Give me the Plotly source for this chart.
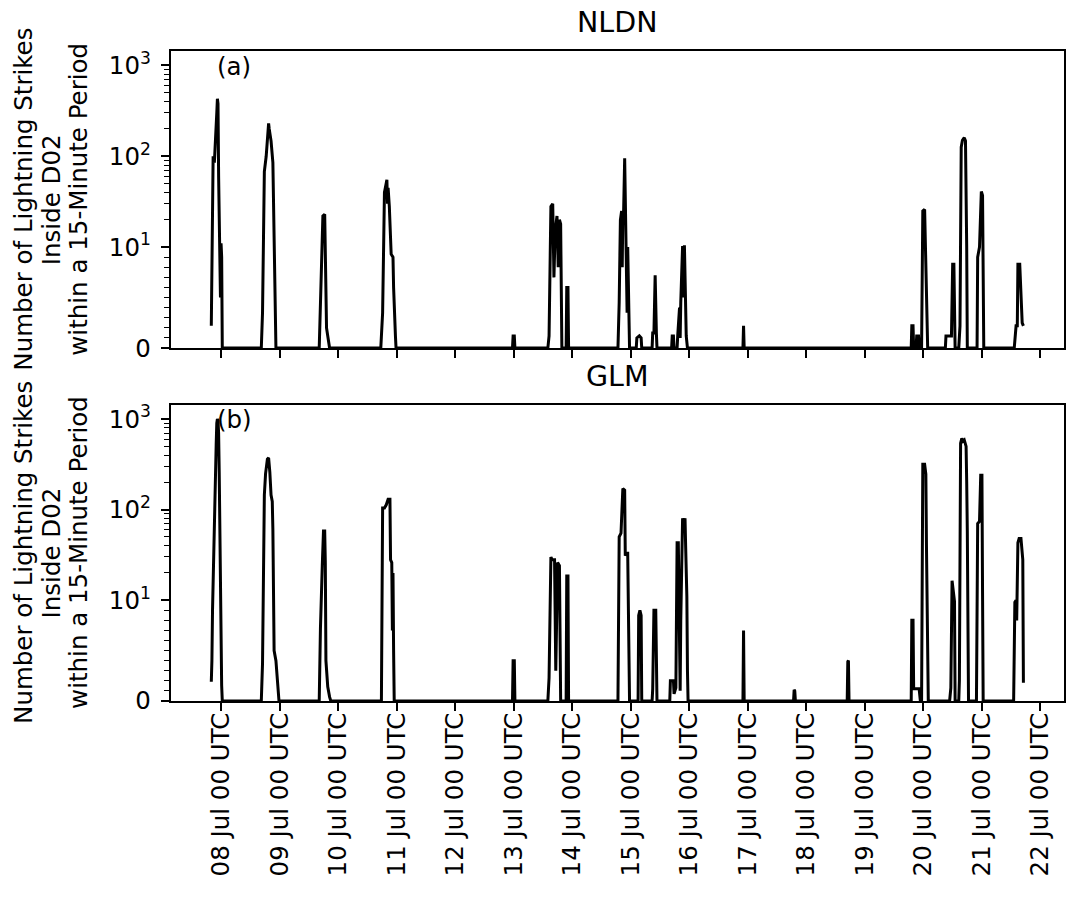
import math
from datetime import datetime
import plotly.graph_objects as go

YEAR = 2022

# NLDN strike counts per 15-minute period (vertices of the series, UTC)
nldn_times = [
    "07-07 20:00", "07-07 20:30", "07-07 20:45", "07-07 21:15", "07-07 21:45", "07-07 22:15",
    "07-07 22:30", "07-07 22:45", "07-07 23:00", "07-07 23:15", "07-07 23:30", "07-07 23:45",
    "07-08 00:00", "07-08 00:15", "07-08 00:30",
    "07-08 16:30", "07-08 17:00", "07-08 17:30", "07-08 17:45", "07-08 18:30", "07-08 19:00",
    "07-08 19:30", "07-08 19:45", "07-08 20:30", "07-08 21:15", "07-08 21:45", "07-08 22:00",
    "07-08 22:30",
    "07-09 16:15", "07-09 17:00", "07-09 17:45", "07-09 18:30", "07-09 18:45", "07-09 19:15",
    "07-09 19:45", "07-09 20:30",
    "07-10 17:30", "07-10 18:15", "07-10 19:00", "07-10 19:30", "07-10 20:00", "07-10 20:15",
    "07-10 20:30", "07-10 21:00", "07-10 21:45", "07-10 22:30", "07-10 22:45", "07-10 23:30",
    "07-10 23:45",
    "07-12 23:30", "07-12 23:45", "07-13 00:15", "07-13 00:30",
    "07-13 14:00", "07-13 14:30", "07-13 15:15", "07-13 16:00", "07-13 16:30", "07-13 17:00",
    "07-13 17:45", "07-13 18:15", "07-13 18:45", "07-13 19:15", "07-13 19:45",
    "07-13 21:30", "07-13 21:45", "07-13 22:15", "07-13 22:30",
    "07-14 18:45", "07-14 19:15", "07-14 19:45", "07-14 20:15", "07-14 20:30", "07-14 20:45",
    "07-14 21:00", "07-14 21:30", "07-14 21:45", "07-14 22:00", "07-14 22:30", "07-14 22:45",
    "07-14 23:00", "07-14 23:30",
    "07-15 02:15", "07-15 02:30", "07-15 03:30", "07-15 04:15", "07-15 04:30",
    "07-15 08:45", "07-15 09:00", "07-15 09:30", "07-15 10:00", "07-15 10:15", "07-15 10:30",
    "07-15 10:45",
    "07-15 16:45", "07-15 17:00", "07-15 17:30", "07-15 17:45",
    "07-15 19:00", "07-15 19:15", "07-15 20:00", "07-15 20:15", "07-15 20:30", "07-15 21:15",
    "07-15 21:30", "07-15 22:00", "07-15 22:45", "07-15 23:15",
    "07-16 22:00", "07-16 22:15", "07-16 22:30",
    "07-19 19:00", "07-19 19:15", "07-19 19:45", "07-19 20:00",
    "07-19 21:00", "07-19 21:15", "07-19 22:00", "07-19 22:15",
    "07-19 23:15", "07-19 23:45", "07-20 00:30", "07-20 01:30", "07-20 01:45",
    "07-20 09:00", "07-20 09:15", "07-20 11:30", "07-20 11:45", "07-20 12:00", "07-20 12:30",
    "07-20 12:45", "07-20 13:00",
    "07-20 14:30", "07-20 15:00", "07-20 15:30", "07-20 16:00", "07-20 16:45", "07-20 17:15",
    "07-20 17:45", "07-20 18:00",
    "07-20 22:00", "07-20 22:15", "07-20 23:00", "07-20 23:45", "07-21 00:15", "07-21 00:45",
    "07-21 13:15", "07-21 14:00", "07-21 14:30", "07-21 14:45", "07-21 15:30", "07-21 16:00",
    "07-21 16:30", "07-21 17:00",
]
nldn_counts = [
    2.2, 30, 100, 85, 140, 300,
    430, 380, 60, 14, 11, 5,
    11, 9, 0,
    0, 3.5, 40, 68, 100, 170,
    230, 200, 148, 85, 10, 5,
    0,
    0, 7.4, 22, 23, 8, 2,
    1.2, 0,
    0, 3.5, 40, 48, 55, 30,
    45, 28, 9.3, 9, 6, 1.2,
    0,
    0, 1.2, 1.2, 0,
    0, 1.2, 28, 30, 7, 15,
    22, 8, 20, 18, 0,
    0, 6, 6, 0,
    0, 4.5, 20, 25, 8, 25,
    20, 95, 40, 10, 3.5, 10,
    5, 0,
    0, 1, 1.2, 1, 0,
    0, 1.5, 1.5, 7.2, 2, 1.5,
    0,
    0, 1.2, 1.2, 0,
    0, 1.2, 4, 1, 4.5, 10.3,
    5, 10.5, 1.2, 0,
    0, 2.2, 0,
    0, 2.2, 2.2, 0,
    0, 1.2, 1.2, 0,
    0, 25, 26, 4.5, 0,
    0, 1.2, 1.2, 7.5, 8.3, 8.3,
    5, 0,
    0, 2.2, 126, 150, 160, 148,
    10, 0,
    0, 9, 10, 41, 37, 0,
    0, 2.2, 2.2, 8.3, 8.3, 5.3,
    2.5, 2.2,
]

# GLM flash counts per 15-minute period (vertices of the series, UTC)
glm_times = [
    "07-07 20:00", "07-07 20:15", "07-07 20:30", "07-07 20:45", "07-07 21:00", "07-07 21:15",
    "07-07 21:30", "07-07 21:45", "07-07 22:00", "07-07 22:15", "07-07 22:30", "07-07 22:45",
    "07-07 23:00", "07-07 23:15", "07-07 23:30", "07-07 23:45", "07-08 00:00", "07-08 00:15",
    "07-08 00:30",
    "07-08 16:30", "07-08 17:00", "07-08 17:15", "07-08 17:45", "07-08 18:15", "07-08 19:00",
    "07-08 19:30", "07-08 20:00", "07-08 20:30", "07-08 21:00", "07-08 21:15", "07-08 21:45",
    "07-08 22:30", "07-08 23:15", "07-08 23:45",
    "07-09 16:15", "07-09 16:45", "07-09 17:30", "07-09 18:00", "07-09 18:30", "07-09 18:45",
    "07-09 19:00", "07-09 19:45", "07-09 20:30", "07-09 21:00",
    "07-10 17:45", "07-10 18:15", "07-10 19:00", "07-10 19:45", "07-10 20:30", "07-10 21:15",
    "07-10 21:30", "07-10 22:00", "07-10 22:15", "07-10 22:30", "07-10 22:45", "07-10 23:00",
    "07-12 23:30", "07-12 23:45", "07-13 00:15", "07-13 00:30",
    "07-13 14:00", "07-13 14:30", "07-13 15:15", "07-13 15:45", "07-13 16:45", "07-13 17:15",
    "07-13 18:00", "07-13 18:45", "07-13 19:15",
    "07-13 21:30", "07-13 21:45", "07-13 22:15", "07-13 22:30",
    "07-14 18:45", "07-14 19:15", "07-14 20:00", "07-14 20:45", "07-14 21:30", "07-14 21:45",
    "07-14 22:15", "07-14 22:45", "07-14 23:30",
    "07-15 03:00", "07-15 03:15", "07-15 03:45", "07-15 04:15", "07-15 04:30",
    "07-15 08:45", "07-15 09:00", "07-15 09:30", "07-15 10:15", "07-15 10:30", "07-15 10:45",
    "07-15 16:00", "07-15 16:15", "07-15 17:30", "07-15 17:45", "07-15 18:30", "07-15 19:00",
    "07-15 19:30", "07-15 19:45", "07-15 20:15", "07-15 20:30", "07-15 21:15", "07-15 21:45",
    "07-15 22:15", "07-15 22:30", "07-15 23:00", "07-15 23:15", "07-15 23:30",
    "07-16 22:00", "07-16 22:15", "07-16 22:30",
    "07-17 18:45", "07-17 19:00", "07-17 19:15", "07-17 19:30",
    "07-18 16:45", "07-18 17:00", "07-18 17:15", "07-18 17:30",
    "07-19 19:00", "07-19 19:15", "07-19 19:45", "07-19 20:00", "07-19 22:15", "07-19 22:45",
    "07-19 23:15", "07-19 23:45", "07-20 00:30", "07-20 00:45", "07-20 01:00", "07-20 01:15",
    "07-20 01:30", "07-20 02:00",
    "07-20 10:45", "07-20 11:15", "07-20 11:45", "07-20 12:15", "07-20 12:45", "07-20 13:00",
    "07-20 14:30", "07-20 14:45", "07-20 15:15", "07-20 15:45", "07-20 16:15", "07-20 16:45",
    "07-20 17:30", "07-20 17:45", "07-20 18:00", "07-20 18:30",
    "07-20 21:45", "07-20 22:15", "07-20 23:00", "07-20 23:30", "07-21 00:00", "07-21 00:15",
    "07-21 00:30",
    "07-21 13:00", "07-21 13:30", "07-21 14:00", "07-21 14:15", "07-21 14:45", "07-21 15:15",
    "07-21 16:00", "07-21 16:45", "07-21 17:00",
]
glm_counts = [
    1.9, 4, 9, 18, 35, 70,
    140, 280, 520, 900, 1000, 950,
    700, 250, 60, 12, 4, 1.5,
    0,
    0, 3.7, 20, 145, 250, 360,
    372, 260, 145, 123, 60, 5,
    4, 1.1, 0,
    0, 7.2, 24, 58, 58, 26,
    4, 1.4, 0.4, 0,
    0, 104, 104, 113, 130, 130,
    28, 26, 7, 20, 5, 0,
    0, 4, 4, 0,
    0, 2.3, 30, 28, 28, 3,
    26, 24, 0,
    0, 18.5, 18.5, 0,
    0, 50, 55, 171, 164, 31,
    33, 33, 0,
    0, 8.5, 9, 8.5, 0,
    0, 1.2, 9, 9, 1.2, 0,
    0, 2, 2, 0.7, 1.3, 43,
    43, 11, 1, 8, 80, 70,
    80, 40, 11, 3, 0,
    0, 7, 0,
    0, 1.1, 1, 0,
    0, 3.9, 4, 0,
    0, 8, 8, 1.2, 1.2, 0,
    0, 317, 317, 280, 246, 40,
    15, 0,
    0, 1.3, 16.4, 11.5, 9.9, 0,
    0, 2, 540, 612, 570, 587,
    498, 200, 58, 0,
    0, 70, 74, 239, 239, 12,
    0,
    0, 9.8, 10, 8, 43, 48,
    48, 28, 1.8,
]

# daily ticks at 00 UTC
tick_days = [f"07-{d:02d}" for d in range(8, 23)]

# symmetric-log scale (linear below 10, logarithmic above)
LINTHRESH = 10.0
LINSCALE = 1.0 / (1.0 - 1.0 / 10.0)


def symlog(v):
    if v <= LINTHRESH:
        return v / LINTHRESH * LINSCALE
    return LINSCALE + math.log10(v / LINTHRESH)


def stamp(s):
    return datetime.strptime(f"{YEAR}-{s}", "%Y-%m-%d %H:%M")


FONT = "DejaVu Sans"
FS = 24.5
W, H = 1066, 910

x_nldn = [stamp(t) for t in nldn_times]
x_glm = [stamp(t) for t in glm_times]
t0 = min(x_nldn + x_glm)
t1 = max(x_nldn + x_glm)
pad = (t1 - t0) * 0.05
x_range = [t0 - pad, t1 + pad]

y_top = 1.05 * symlog(max(nldn_counts + glm_counts))
major_vals = [0, 10, 100, 1000]
major_text = ["0", "10<sup>1</sup>", "10<sup>2</sup>", "10<sup>3</sup>"]
minor_vals = list(range(1, 10)) + list(range(20, 100, 10)) + list(range(200, 1000, 100))

tick_dates = [stamp(d + " 00:00") for d in tick_days]
tick_labels = [d.strftime("%d %b %H UTC") for d in tick_dates]

fig = go.Figure()
fig.add_trace(go.Scatter(x=x_nldn, y=[symlog(v) for v in nldn_counts], mode="lines",
                         line=dict(color="black", width=3), customdata=nldn_counts,
                         hovertemplate="%{x}<br>%{customdata}<extra>NLDN</extra>",
                         xaxis="x", yaxis="y"))
fig.add_trace(go.Scatter(x=x_glm, y=[symlog(v) for v in glm_counts], mode="lines",
                         line=dict(color="black", width=3), customdata=glm_counts,
                         hovertemplate="%{x}<br>%{customdata}<extra>GLM</extra>",
                         xaxis="x2", yaxis="y2"))

x_dom = [170.7 / W, 1064 / W]
top_dom = [(H - 352.0) / H, (H - 49.3) / H]
bot_dom = [(H - 712.0) / H, (H - 410.0) / H]

axis_common = dict(showline=True, linecolor="black", linewidth=1.8, mirror=True,
                   showgrid=False, zeroline=False, ticks="outside", tickcolor="black",
                   tickwidth=1.8, ticklen=8,
                   tickfont=dict(family=FONT, size=FS, color="black"))

xa = dict(axis_common, type="date", range=x_range, tickmode="array",
          tickvals=tick_dates, ticktext=tick_labels, domain=x_dom)
ya = dict(axis_common, range=[0, y_top], tickmode="array",
          tickvals=[symlog(v) for v in major_vals], ticktext=major_text,
          ticklabelstandoff=5,
          minor=dict(tickmode="array", tickvals=[symlog(v) for v in minor_vals],
                     ticks="outside", ticklen=4.6, tickwidth=1.3, tickcolor="black"))

fig.update_layout(
    width=W, height=H, margin=dict(l=0, r=0, t=0, b=0),
    paper_bgcolor="white", plot_bgcolor="white", showlegend=False,
    font=dict(family=FONT, size=FS, color="black"),
    xaxis=dict(xa, anchor="y", showticklabels=False),
    yaxis=dict(ya, anchor="x", domain=top_dom),
    xaxis2=dict(xa, anchor="y2", matches="x", tickangle=-90, ticklabelstandoff=-8),
    yaxis2=dict(ya, anchor="x2", domain=bot_dom, matches="y"),
)

ylabel_lines = ["Number of Lightning Strikes", "Inside D02", "within a 15-Minute Period"]
ylabel_x = [24, 51.5, 79]
annotations = []
for dom, title, tag, yref in ((top_dom, "NLDN", "(a)", "y"), (bot_dom, "GLM", "(b)", "y2")):
    xr = "x" if yref == "y" else "x2"
    annotations.append(dict(text=title, xref=f"{xr} domain", yref=f"{yref} domain",
                            x=0.5, y=1, xanchor="center", yanchor="bottom", yshift=10,
                            showarrow=False, font=dict(family=FONT, size=28.5, color="black")))
    annotations.append(dict(text=tag, xref=f"{xr} domain", yref=f"{yref} domain",
                            x=0.05, y=0.95, xanchor="left", yanchor="middle",
                            showarrow=False, font=dict(family=FONT, size=FS, color="black")))
    yc = (dom[0] + dom[1]) / 2
    for line, px in zip(ylabel_lines, ylabel_x):
        annotations.append(dict(text=line, xref="paper", yref="paper", x=px / W, y=yc,
                                xanchor="center", yanchor="middle", textangle=-90,
                                showarrow=False, font=dict(family=FONT, size=FS, color="black")))
fig.update_layout(annotations=annotations)

fig.write_html("out.html")
